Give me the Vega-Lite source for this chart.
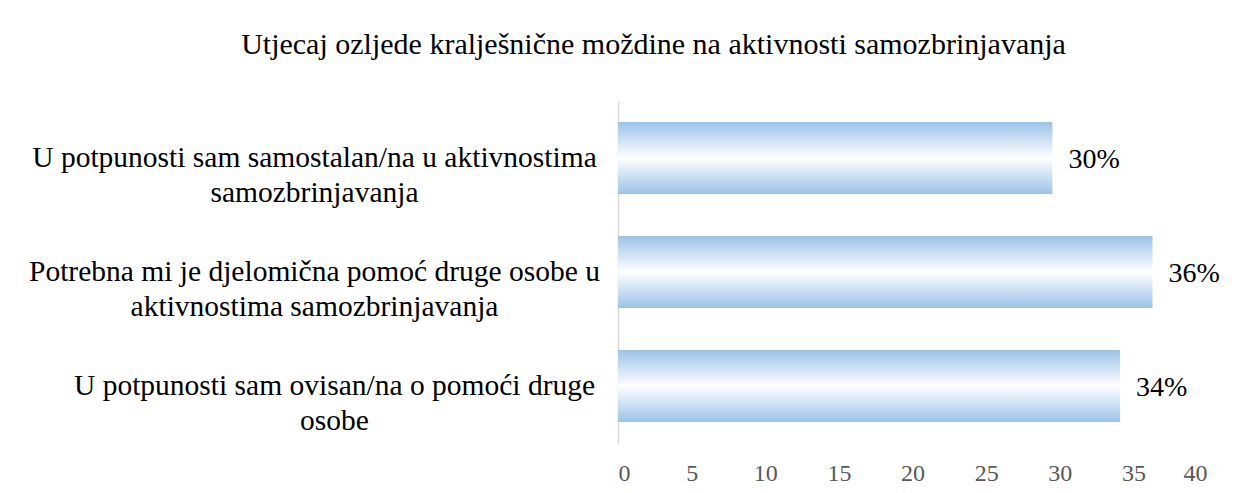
{
  "$schema": "https://vega.github.io/schema/vega-lite/v6.json",
  "width": 589,
  "height": 342,
  "autosize": {"type": "none"},
  "padding": {"left": 618, "top": 101, "right": 29, "bottom": 50},
  "background": "white",
  "config": {"view": {"stroke": null}, "font": "Liberation Serif"},
  "title": {
    "text": "Utjecaj ozljede kralješnične moždine na aktivnosti samozbrinjavanja",
    "font": "Liberation Serif",
    "fontSize": 30,
    "fontWeight": "normal",
    "color": "#000000",
    "anchor": "middle",
    "dx": -259,
    "offset": 17,
    "baseline": "alphabetic"
  },
  "data": {
    "values": [
      {"category": "U potpunosti sam samostalan/na u aktivnostima\nsamozbrinjavanja", "value": 29.5, "label": "30%"},
      {"category": "Potrebna mi je djelomična pomoć druge osobe u\naktivnostima samozbrinjavanja", "value": 36.3, "label": "36%"},
      {"category": "U potpunosti sam ovisan/na o pomoći druge\nosobe", "value": 34.1, "label": "34%"}
    ]
  },
  "encoding": {
    "y": {
      "field": "category",
      "type": "nominal",
      "sort": null,
      "scale": {"paddingInner": 0.368, "paddingOuter": 0.184},
      "axis": {
        "title": null,
        "labelExpr": "split(datum.label, '\\n')",
        "labelAlign": "center",
        "labelBaseline": "middle",
        "labelFont": "Liberation Serif",
        "labelFontSize": 29.5,
        "labelColor": "#000000",
        "labelLineHeight": 35,
        "labelPadding": {"condition": {"test": "datum.value === 'U potpunosti sam ovisan/na o pomoći druge\\nosobe'", "value": 284}, "value": 304},
        "labelLimit": 0,
        "ticks": false,
        "tickSize": 0,
        "domainColor": "#d9d9d9",
        "domainWidth": 1.5,
        "grid": false
      }
    },
    "x": {
      "field": "value",
      "type": "quantitative",
      "scale": {"domain": [0, 40], "nice": false},
      "axis": {
        "title": null,
        "values": [0, 5, 10, 15, 20, 25, 30, 35, 40],
        "domain": false,
        "ticks": false,
        "grid": false,
        "labelFont": "Liberation Serif",
        "labelFontSize": 24,
        "labelColor": "#595959",
        "labelPadding": 18
      }
    }
  },
  "layer": [
    {
      "mark": {
        "type": "bar",
        "color": {
          "gradient": "linear",
          "x1": 0, "y1": 0, "x2": 0, "y2": 1,
          "stops": [
            {"offset": 0, "color": "#9bc2e6"},
            {"offset": 0.5, "color": "#ffffff"},
            {"offset": 1, "color": "#9bc2e6"}
          ]
        }
      }
    },
    {
      "mark": {
        "type": "text",
        "align": "left",
        "baseline": "middle",
        "dx": 16,
        "dy": 2,
        "font": "Liberation Serif",
        "fontSize": 28,
        "color": "#000000"
      },
      "encoding": {"text": {"field": "label"}}
    }
  ]
}
